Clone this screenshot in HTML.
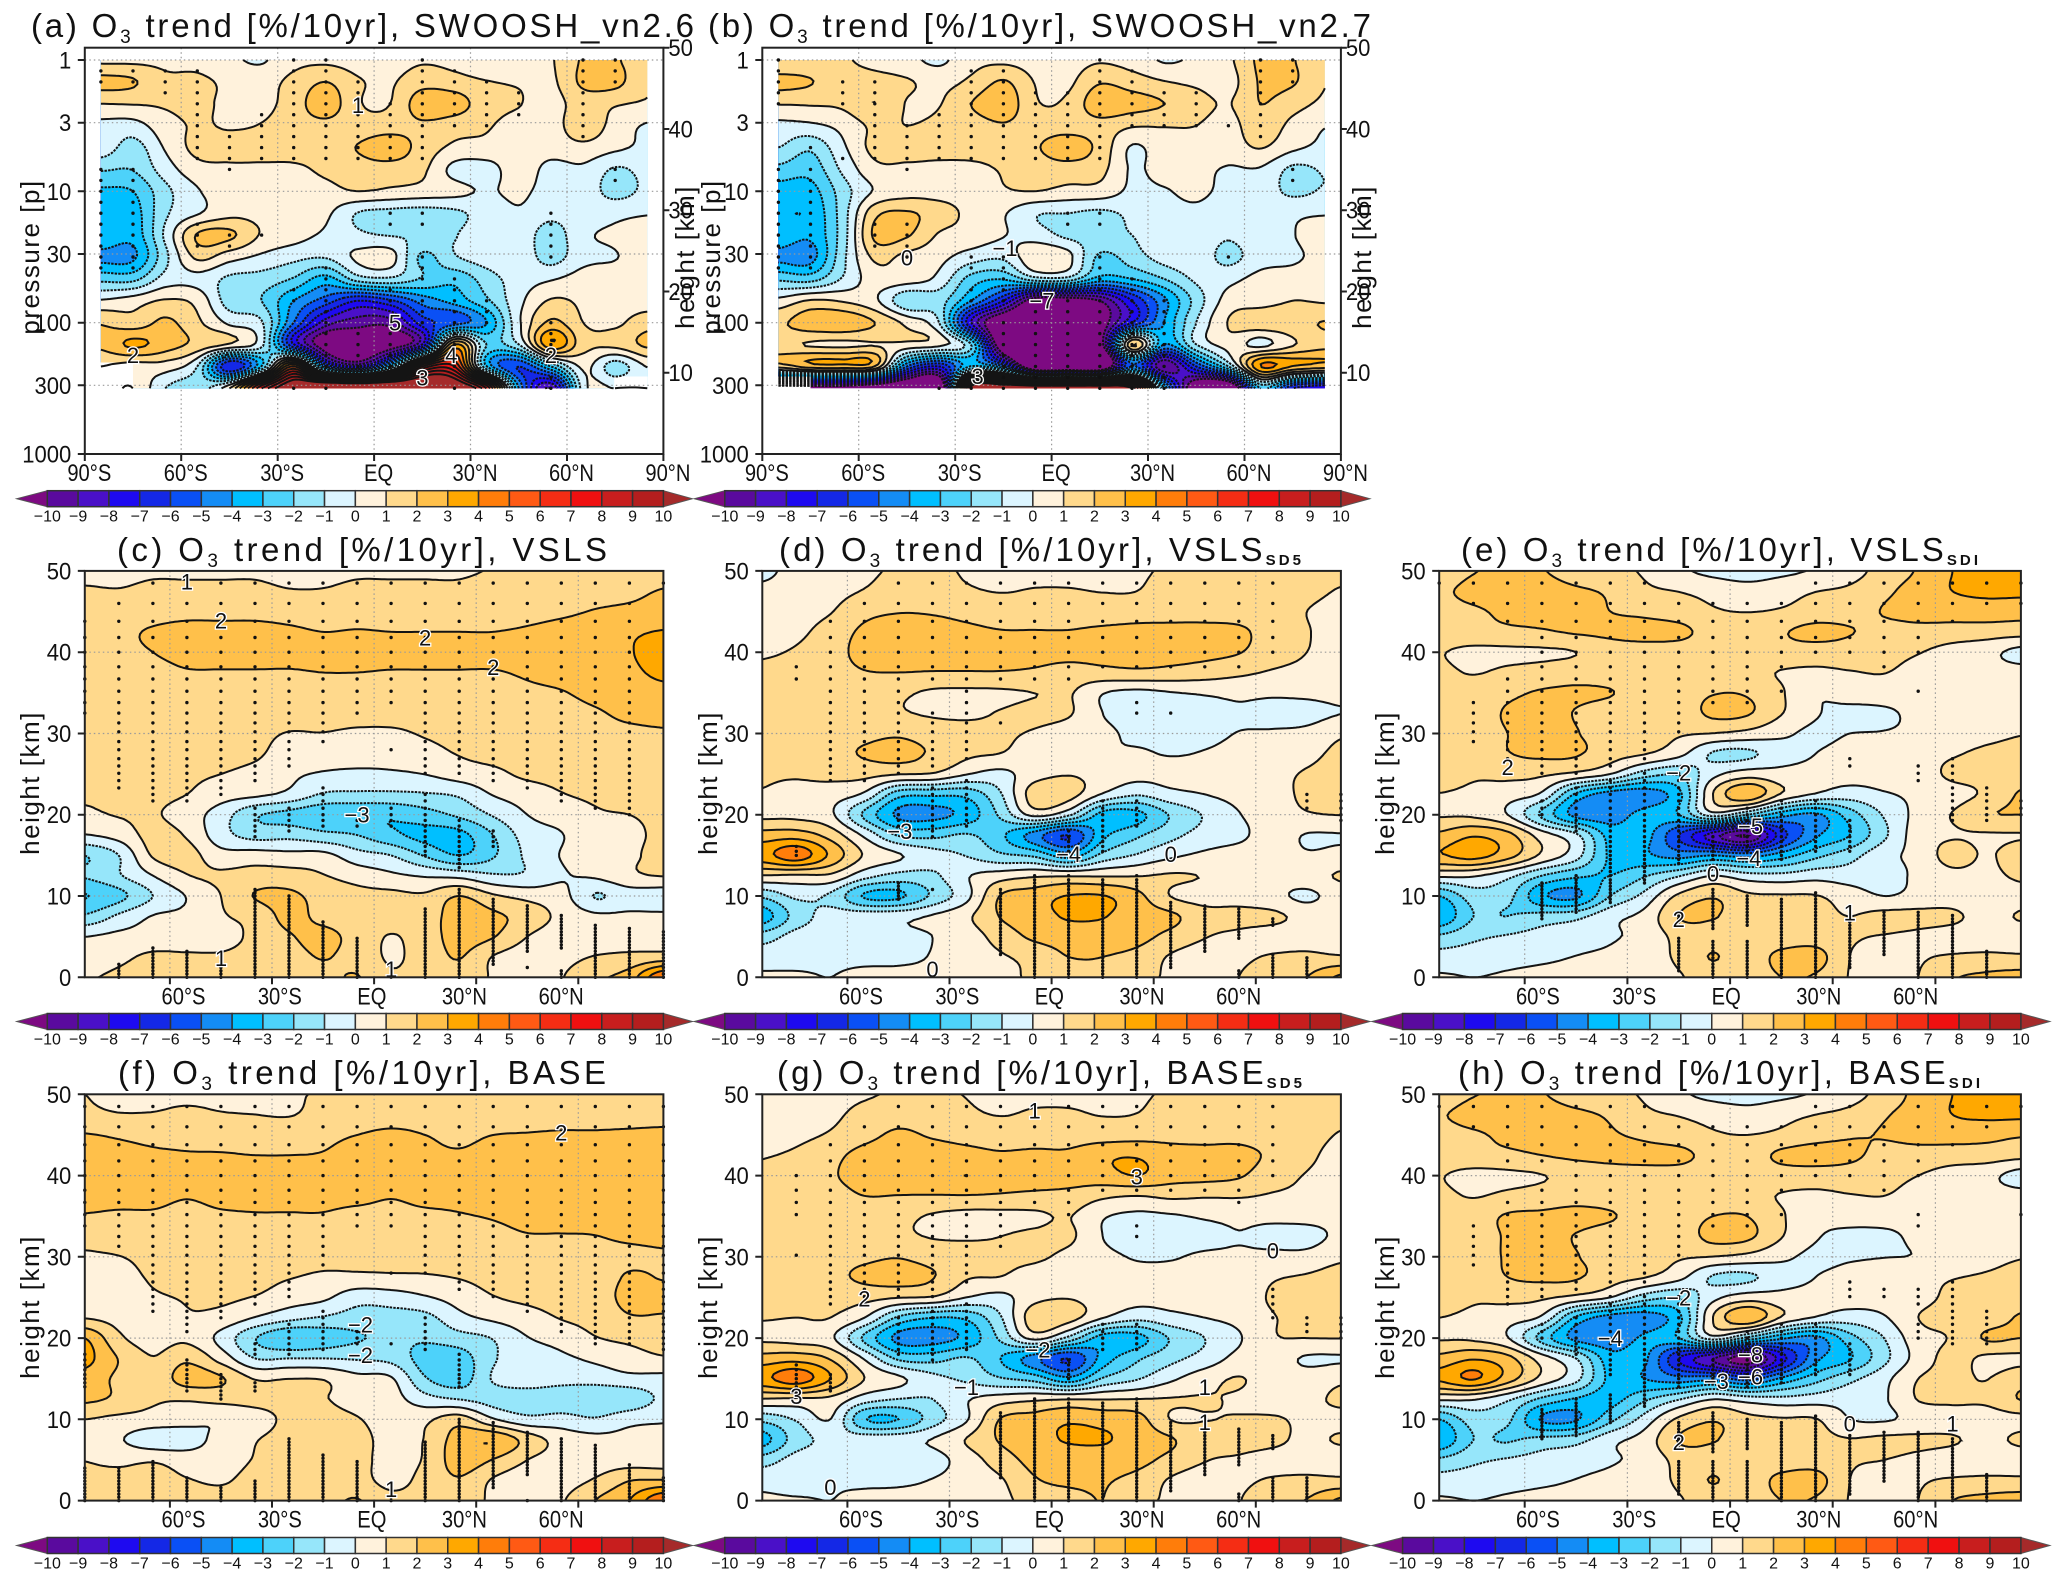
<!DOCTYPE html>
<html lang="en">
<head>
<meta charset="utf-8">
<title>O3 trend panels</title>
<style>
html,body{margin:0;padding:0;background:#fff}
svg{display:block}
text{font-family:"Liberation Sans",sans-serif;fill:#111}
.ttl{font-size:33px}
.sub{font-size:19px}
.sd{font-size:15px;font-weight:bold}
.axt{font-size:26px;letter-spacing:1.5px}
</style>
</head>
<body>
<svg id="chart" xmlns="http://www.w3.org/2000/svg" width="2067" height="1580" viewBox="0 0 2067 1580">
<rect width="2067" height="1580" fill="#fff"/>
<g id="plots"></g>

<text class="ttl" x="31" y="37" textLength="663">(a) O<tspan class="sub" dy="6">3</tspan><tspan dy="-6"> trend [%/10yr], SWOOSH_vn2.6</tspan></text>
<text class="ttl" x="708" y="37" textLength="663">(b) O<tspan class="sub" dy="6">3</tspan><tspan dy="-6"> trend [%/10yr], SWOOSH_vn2.7</tspan></text>
<text class="ttl" x="117" y="561" textLength="490">(c) O<tspan class="sub" dy="6">3</tspan><tspan dy="-6"> trend [%/10yr], VSLS</tspan></text>
<text class="ttl" x="779" y="561" textLength="522">(d) O<tspan class="sub" dy="6">3</tspan><tspan dy="-6"> trend [%/10yr], VSLS</tspan><tspan class="sd" dy="4">SD5</tspan></text>
<text class="ttl" x="1461" y="561" textLength="517">(e) O<tspan class="sub" dy="6">3</tspan><tspan dy="-6"> trend [%/10yr], VSLS</tspan><tspan class="sd" dy="4">SDI</tspan></text>
<text class="ttl" x="118" y="1084" textLength="488">(f) O<tspan class="sub" dy="6">3</tspan><tspan dy="-6"> trend [%/10yr], BASE</tspan></text>
<text class="ttl" x="777" y="1084" textLength="525">(g) O<tspan class="sub" dy="6">3</tspan><tspan dy="-6"> trend [%/10yr], BASE</tspan><tspan class="sd" dy="4">SD5</tspan></text>
<text class="ttl" x="1458" y="1084" textLength="522">(h) O<tspan class="sub" dy="6">3</tspan><tspan dy="-6"> trend [%/10yr], BASE</tspan><tspan class="sd" dy="4">SDI</tspan></text>

<text class="axt" transform="translate(39,257) rotate(-90)" text-anchor="middle">pressure [p]</text>
<text class="axt" transform="translate(694,257) rotate(-90)" text-anchor="middle">height [km]</text>
<text class="axt" transform="translate(720,257) rotate(-90)" text-anchor="middle">pressure [p]</text>
<text class="axt" transform="translate(1371,257) rotate(-90)" text-anchor="middle">height [km]</text>
<text class="axt" transform="translate(39,783) rotate(-90)" text-anchor="middle">height [km]</text>
<text class="axt" transform="translate(717,783) rotate(-90)" text-anchor="middle">height [km]</text>
<text class="axt" transform="translate(1394,783) rotate(-90)" text-anchor="middle">height [km]</text>
<text class="axt" transform="translate(39,1307) rotate(-90)" text-anchor="middle">height [km]</text>
<text class="axt" transform="translate(717,1307) rotate(-90)" text-anchor="middle">height [km]</text>
<text class="axt" transform="translate(1394,1307) rotate(-90)" text-anchor="middle">height [km]</text>
</svg>

<script>
// ---------- shared axes data ----------
const latitudes = [-85,-75,-65,-55,-45,-35,-25,-15,-5,5,15,25,35,45,55,65,75,85];
const heightLevels = [50,47.5,45,42.5,40,37.5,35,32.5,30,27.5,25,22.5,20,17.5,15,12.5,10,7.5,5,2.5,0];
const pressureLevels = [1,1.47,2.15,3.16,4.64,6.81,10,14.7,21.5,31.6,46.4,68.1,100,147,215,316];
const stippleHeights = [48.5,46,43.8,41.8,40,38.2,36.7,35.2,33.8,32.5,31.3,30.2,29,28,26.9,26,25.1,24.2,23.3,22.5,21.7,20.8,20,19.3,18.6,18,17.3,16.7,16.1,15.5,15,14.5,14,13.5,13,12.5,12,11.6,11.2,10.8,10.4,10,9.6,9.2,8.8,8.4,8,7.6,7.2,6.8,6.4,6,5.6,5.2,4.8,4.4,4,3.6,3.2,2.8,2.4,2,1.6,1.2,0.8,0.4,0];
const contourLevels = [-10,-9,-8,-7,-6,-5,-4,-3,-2,-1,0,1,2,3,4,5,6,7,8,9,10];
const colorbarLabels = ['−10','−9','−8','−7','−6','−5','−4','−3','−2','−1','0','1','2','3','4','5','6','7','8','9','10'];
const bandColors = ['#5a0a9e','#4a10c8','#1e0af0','#1428e6','#0a50f5','#148cf5','#00bfff','#4dd2fa','#96e6fa','#dcf5ff','#fff2dc','#ffd98c','#ffc04a','#ffa800','#ff7d0a','#ff5a14','#f52d14','#f01010','#c81e1e','#b41e1e'];
const belowColor = '#7d0a82';
const aboveColor = '#a52a2a';
const pressureTicks = [1,3,10,30,100,300,1000];
const pressureTickLabels = ['1','3','10','30','100','300','1000'];
const heightTicks = [0,10,20,30,40,50];
const latTicksFull = [-90,-60,-30,0,30,60,90];
const latLabelsFull = ['90°S','60°S','30°S','EQ','30°N','60°N','90°N'];
const latTicksShort = [-60,-30,0,30,60];
const latLabelsShort = ['60°S','30°S','EQ','30°N','60°N'];

// ---------- O3 trend grids (%/10yr), rows top to bottom, columns 85S to 85N ----------
const trendSwoosh26 = [
[.8,.8,.8,.7,.2,-.1,.7,.8,.6,.6,.9,.7,.1,.3,.9,2.1,2.1,1.3],
[2.3,2.1,1.2,1.2,.8,.6,1.3,2,1.1,.9,1.6,1.4,1.05,.9,.8,2.2,2.3,1.05],
[1,1.05,1.1,1.2,.8,.7,1.5,2.6,1.1,1,2.6,2.5,1.4,1.05,.6,1.5,1.1,.9],
[-.3,-.4,.6,1.1,.9,1.05,1.5,1.7,1.4,1.5,1.8,1.4,1.1,.6,.5,1.7,.6,-.1],
[-.4,-1.4,.1,1.3,1.4,1.4,1.5,1.5,2.05,2.6,1.6,.8,.7,.5,.4,.7,.2,-.2],
[-1.9,-1.95,-.5,.6,.8,.8,.8,1.2,1.5,1.5,1.2,-.3,-.4,.5,-.3,-.2,-1.1,-.7],
[-3.2,-3,-1.3,-.1,.6,.6,.6,.7,1,.8,.6,.3,-.1,.2,-.4,-.5,-1.3,-.8],
[-3.9,-3.5,-1.2,-.1,.7,.7,.7,.2,-1.05,-1.3,-1.4,-1.2,-.6,-.1,-.7,-.4,-.3,-.1],
[-3,-3.6,-.8,2.1,2.2,.9,.4,-.2,-.8,-1.05,-1.05,-1.05,-.3,-.3,-1.5,-.2,.2,.9],
[-4.3,-4.2,-1.3,1.2,.4,-.2,-.7,-.9,.2,.4,-2.2,-1.1,-.5,-.3,-1.4,-.3,-.05,.5],
[-2.3,-2.3,-.6,-.3,-1.2,-1.4,-2.1,-3.4,-1.5,-1.2,-2.1,-2.7,-1.5,-.5,-.1,.4,.5,.6],
[.1,.5,1.1,.7,-1.5,-2,-4,-5.5,-7,-6.2,-4.6,-3.6,-2.2,-.3,1.1,.8,.5,.5],
[1.9,1.4,2.2,1.2,-.2,-.9,-5,-8.5,-9.5,-9.5,-6.5,-5.5,-4,-.2,2.2,1,.8,1.6],
[2.2,3.2,2.5,1.7,.9,-.7,-7,-11,-11,-11,-8,3,-2,-1,3.8,1.4,1.3,2.2],
[1,.6,.5,-1,-7,-3,5,-5,-8,-3,6,7,-3,-6,-3,.2,-1.5,.05],
[.5,1,-1,-1.5,1,8,12,14,14,14,13,12,8,-4,-9,-.5,0,0]
];
const trendSwoosh27 = [
[1.1,1.2,1.1,.7,.3,-.2,.7,.8,.6,.6,.9,.6,-.1,.2,.8,2.2,2.05,1.2],
[2.3,2.05,1.4,1.4,1.1,.7,1.2,2.1,.95,.8,1.9,1.5,1.05,.8,.6,2.1,2.1,1.05],
[1.05,1.1,1.2,2,.95,.95,2,2.7,1.1,1.2,2.7,2.4,2,1.4,.95,2,1.4,.8],
[-.3,-.2,.3,1.2,1,1.2,1.5,1.9,1.5,1.5,1.6,1.1,1.05,1,.6,1.7,.7,.05],
[-1,-1.8,-.2,1.3,1.4,1.4,1.5,1.6,1.9,2.6,1.7,-.1,.6,.7,.5,1.05,.2,-.2],
[-2.3,-2.6,-.8,.7,.8,.7,.7,1.1,1.4,1.5,1.3,-.1,.4,.3,-.1,-.1,-1.2,-.9],
[-3.5,-3.4,-1.5,.1,.6,.6,.6,.9,1,.7,.6,-.2,-.1,.3,-.4,-.5,-1.2,-.9],
[-3.9,-3.8,-1.5,1.7,2.1,1.5,.7,.1,-.9,-1,-1.2,-.8,-.5,-.3,-.9,-.5,-.2,-.1],
[-3.2,-3.8,-1.5,2.2,2.1,.9,.6,.05,-.5,-1.2,-1.3,-1,-.4,-.3,-.9,-.2,-.05,.8],
[-4.3,-4.4,-1.3,1.2,.7,.3,-.5,-.8,.8,.3,-2.2,-1.5,-.6,-.4,-1.3,-.4,-.2,.4],
[-2.2,-2.4,-.9,.5,.5,-.3,-2.4,-2.9,-1.4,-1.4,-3.4,-3,-2,-.8,-.3,.3,.5,.7],
[.3,1.1,.9,.2,-1.8,-1.6,-4,-7,-11,-11,-10,-7,-4.3,-1.6,.4,.6,1,.9],
[1.8,2.6,2.8,2,.7,-1,-8,-12,-13,-13,-11,-7,-4,-1,1.05,1.7,1.7,2.05],
[1.3,.9,.8,.95,.7,.3,-2,-12,-13,-13,-11,2,-4,-1,.4,-.3,.9,1.7],
[1.4,2.5,2.6,2,-5,-7,-3,-5,-13,-13,-13,-5,-10,-6,-2,4,3,2.5],
[-11,-11,-11,-12,-13,-13,11,12,12,12,12,10,-3,-12,-13,-3,-7,-8]
];
const trendVSLS = [
[.8,.8,.9,.9,.9,.9,.8,.8,.9,.9,.9,.9,1.05,1.2,1.4,1.5,1.6,1.7],
[1.1,1.05,1.2,1.2,1.2,1.2,1.05,1.05,1.2,1.2,1.2,1.2,1.4,1.5,1.6,1.7,1.8,2.05],
[1.5,1.5,1.6,1.7,1.7,1.7,1.6,1.5,1.6,1.6,1.6,1.6,1.7,1.75,1.85,2.05,2.2,2.4],
[1.7,1.8,2.1,2.3,2.3,2.3,2.15,2,2.05,2,2,2,2,2.1,2.3,2.5,2.85,3.05],
[1.7,1.8,2,2.2,2.3,2.3,2.2,2.2,2.3,2.3,2.3,2.3,2.3,2.4,2.5,2.6,2.95,3.3],
[1.6,1.7,1.8,1.95,1.95,1.95,1.95,2,2,1.95,1.95,1.95,1.95,2.1,2.3,2.5,2.8,3.2],
[1.5,1.6,1.65,1.7,1.75,1.75,1.7,1.7,1.7,1.7,1.7,1.7,1.75,1.85,1.95,2.25,2.45,2.7],
[1.4,1.4,1.5,1.5,1.6,1.6,1.5,1.5,1.5,1.5,1.5,1.5,1.5,1.6,1.7,1.9,2.2,2.3],
[1.3,1.3,1.4,1.4,1.4,1.3,.95,.97,.8,.8,1.1,1.3,1.4,1.5,1.6,1.7,1.8,1.9],
[1.2,1.2,1.3,1.3,1.25,1.15,.55,.45,.4,.4,.65,1.05,1.3,1.4,1.5,1.5,1.6,1.65],
[1.1,1.1,1.2,1.15,1,.7,.2,-.1,-.2,-.15,.02,.45,.75,1.2,1.3,1.4,1.5,1.5],
[1.05,1.05,1.2,1,.45,.2,-.25,-1.1,-1.2,-1.2,-1.1,-.85,.05,.45,.95,1.15,1.3,1.4],
[.85,1.05,1.1,.5,-.5,-1.85,-2.3,-2.75,-2.85,-2.85,-2.4,-1.8,-.9,0,.45,.9,1,1.2],
[-.05,.4,1.3,.9,-.6,-1.35,-1.3,-1.7,-2,-2.75,-3.3,-3.3,-2,-.55,-.05,.7,.8,1.2],
[-2,-1,1.1,1.35,.4,.45,.3,.3,-.6,-1,-2.1,-3,-2.1,-.8,.05,.7,.85,1.3],
[-1.9,-1.1,0,.95,1.15,1.4,1.4,1.05,.6,.2,-.1,-.3,-.85,-.85,-.1,.15,.8,1.05],
[-3.05,-2.3,-1,.05,1,2.05,2.2,1.6,1.3,1.25,1.15,2,1.15,.7,.35,-1.05,-.5,-.6],
[-1.85,-.8,.05,.25,.9,1.3,2.3,1.7,1.4,1.4,1.4,2.6,2.2,1.6,.75,.2,.2,.2],
[0,.25,.35,.45,.7,1.2,1.9,2.3,1.6,.95,1.5,2.4,2.05,1,.5,.5,.6,.65],
[.3,.75,1.2,1.15,1.1,1.3,1.6,2.05,1.6,.9,1.4,2.05,.95,.5,.7,1.05,1.2,1.4],
[.9,1.2,1.5,1.5,1.3,1.4,1.6,1.7,2.05,1.1,1.4,1.6,.9,.5,.95,1.8,2.5,5]
];
const trendVSLSSD5 = [
[-.2,.3,.6,.85,1.1,1.1,.95,.8,.8,.8,.8,.9,1.1,1.2,1.25,1.25,1.2,1.15],
[.2,.4,.7,1.05,1.4,1.3,1.1,.97,1.05,1.05,.98,1,1.4,1.45,1.4,1.3,1.2,.95],
[.4,.6,.95,1.7,1.95,1.9,1.7,1.5,1.4,1.4,1.4,1.5,1.6,1.6,1.5,1.35,1,.7],
[.6,.8,1.4,2.2,2.5,2.4,2.2,2.05,2.05,2.05,2.2,2.3,2.3,2.3,2.2,1.5,1.05,.7],
[.9,1.1,1.6,2.3,2.4,2.4,2.3,2.3,2.3,2.3,2.3,2.3,2.3,2.25,2.05,1.4,1,.7],
[1.15,1.3,1.6,1.95,2,1.95,1.95,1.95,1.85,1.6,1.7,1.8,1.7,1.5,1.2,.9,.75,.6],
[1.2,1.3,1.45,1.45,1.2,.85,.8,.85,1,1.1,.05,-.25,-.05,.1,.2,.15,.2,.3],
[1.2,1.3,1.45,1.4,1.1,.9,.85,1.05,1.25,1.1,0,-.35,-.4,-.3,-.1,-.3,-.3,-.02],
[1.2,1.3,1.5,1.7,1.85,1.5,1.3,1.15,.9,.5,.2,-.2,-.25,-.15,.02,.1,.25,.85],
[1.2,1.3,1.6,2.1,2.35,1.85,1.2,.98,.5,.2,.02,.1,-.05,.05,.2,.4,.7,1.25],
[1.1,1.1,1.3,1.3,1.05,.9,.05,-.3,.6,.95,.6,.3,.35,.4,.5,.7,1.1,1.35],
[.95,.7,.45,-.2,-2.6,-2.8,-2.7,-1.1,1.5,1.4,-.1,-.9,-.3,0,.3,.6,1.2,1.35],
[.75,.7,.2,-2.2,-4.2,-4.3,-3.6,-1.8,.3,-.8,-3.4,-3.3,-1.9,-.9,-.05,.5,.9,1.02],
[2.4,2.5,1.6,-.2,-2.1,-2.3,-1.9,-2.8,-4.5,-6,-3.3,-2.2,-1.3,-.6,-.2,.4,-.05,-.05],
[3.6,4.6,2.8,.9,.1,-.6,-1.05,-1.8,-2.2,-3.5,-1.7,-.9,-.2,.2,.4,.5,.1,.3],
[.95,.85,.8,-.6,-1.3,-1.2,-.1,.5,.85,.9,.9,.95,1.1,.95,.6,.4,.6,1.1],
[-1.8,-.8,-1.2,-3.1,-3.2,-1.8,-.3,2.05,2.5,3.05,3.05,2.3,.98,.6,.6,.3,-.2,.5],
[-3.5,-1.6,-.6,-.4,-.3,.1,.8,2.05,2.6,3.1,3.05,2.5,2.2,1.4,1.3,1.2,.7,.8],
[-1.5,-.6,-.5,-.4,-.2,0,.5,1.4,2.2,2.4,2.4,2.3,1.7,1.05,.8,.6,.6,.6],
[-.4,-.3,-.2,-.2,-.15,.05,.5,.9,1.3,2,2,1.7,.9,.5,.8,1.1,1.2,1.1],
[.1,.1,0,.2,.2,.2,.3,.8,1.1,1.3,1.7,1.2,.9,.5,1,1.7,2,3.2]
];
const trendVSLSSDI = [
[1.3,1.95,2.1,2.05,1.5,1.2,.9,.2,-.25,-.4,-.2,.1,.6,1.4,2.1,3,3.4,3.4],
[1.8,2.3,2.4,2.4,2.15,1.85,1.2,.98,.7,.4,.65,.98,1.2,1.8,2.4,3,3.2,3.2],
[1.6,1.85,2.2,2.3,2.3,2,1.8,1.5,1.1,.98,1.1,1.4,1.6,2.05,2.3,2.4,2.5,2.4],
[1.5,1.7,1.8,1.9,2.1,2.2,2.3,2.25,1.6,1.5,1.9,2.3,2.05,1.7,1.7,1.6,1.5,1.4],
[1.05,.75,.8,.85,1,1.5,1.6,1.5,1.4,1.4,1.6,1.5,1.5,1.3,1.05,.6,.3,-.3],
[1.2,.95,1.2,1.4,1.6,1.5,1.5,1.5,1.4,1.3,.95,.8,.95,1.02,.7,.5,.4,.35],
[1.3,1.5,1.8,2.1,2.15,2.05,1.5,1.5,1.95,1.9,1.1,.1,.5,.6,.5,.5,.5,.5],
[1.3,1.5,2.1,2.3,1.95,1.5,1.4,1.4,2.2,2.1,1.05,.1,-.3,-.2,.3,.5,.4,.4],
[1.3,1.5,2,2.35,2.05,1.5,1.3,1.1,.98,.7,.2,-.2,0,.05,.2,.4,.7,.95],
[1.3,1.4,1.95,2.2,2.1,1.4,1.05,.3,-1.1,-1.2,-.4,0,.3,.4,.6,.9,1.2,1.3],
[1.9,1.2,1.3,1.15,.75,0,-1.5,-1.9,-.3,.5,.3,.2,.35,.4,.5,1.2,1.3,1.5],
[.95,.7,.4,-.2,-3.2,-4.5,-4.6,-3.3,1,2.8,.9,-.1,-.5,-.1,.2,.6,1.2,2.1],
[.9,.8,0,-2.2,-4.3,-4.5,-3.6,-3,-.5,-2,-3.6,-4.2,-2.5,-.9,.3,1.05,1.9,2],
[2.2,2.9,2.3,.5,-.8,-3.4,-3.6,-6,-8.5,-10,-6.5,-4.2,-3,-1.2,.5,.9,.9,.95],
[2.9,3.4,2.4,.8,-.6,-3.2,-3.8,-4.4,-4,-4.4,-3.5,-2.3,-1.4,-.3,.3,1.4,.9,1.5],
[.2,.1,-.7,-2,-2.8,-3,-2.1,-1.1,0,-.6,-.7,-.4,-.5,-.4,.2,.7,.7,1.2],
[-3,-1.5,-1.7,-3.8,-4.2,-2,-.7,1.2,1.9,1.2,1.1,1.05,.5,0,.3,.5,.2,.6],
[-3.9,-2,-2,-1.6,-1.3,-.3,.3,2,2.05,1.6,1.5,1.3,1,1.3,1.3,1.2,.6,1.1],
[-1.8,-1.2,-.9,-.6,-.4,-.1,.3,1.3,1.6,1.4,1.4,1.5,1.1,.95,.8,.6,.5,.5],
[-.6,-.5,-.3,-.15,.02,.15,.4,1.2,2.05,1.4,2.3,2.4,1,.6,.9,1.1,1.2,1.15],
[.1,0,.1,.2,.2,.3,.4,.9,1.5,1.4,2,1.9,.95,.5,1,1.9,2.2,2.4]
];
const trendBASE = [
[1,.8,.9,.9,.9,.9,.95,1.05,1.2,1.2,1.2,1.2,1.3,1.3,1.3,1.3,1.3,1.3],
[1.2,1.05,1.05,1.15,1.05,1,.95,1.3,1.4,1.5,1.5,1.5,1.5,1.55,1.6,1.6,1.6,1.65],
[2.05,1.9,1.8,1.8,1.7,1.7,1.7,1.8,2,2.2,2,1.8,2,2.05,2.1,2.1,2.15,2.2],
[2.4,2.2,2.1,2.05,2.05,2,2,2.05,2.3,2.4,2.2,2.1,2.3,2.3,2.3,2.3,2.3,2.4],
[2.5,2.4,2.4,2.4,2.4,2.4,2.4,2.4,2.5,2.5,2.4,2.4,2.4,2.4,2.5,2.5,2.5,2.6],
[2.2,2.2,2.2,2.05,2.2,2.2,2.2,2.2,2.2,2.05,2.2,2.2,2.3,2.4,2.4,2.4,2.5,2.5],
[1.95,1.9,1.9,1.8,1.9,1.95,1.95,1.95,1.8,1.8,1.85,1.95,2.05,2.2,2.3,2.3,2.5,2.5],
[1.4,1.6,1.65,1.7,1.7,1.7,1.7,1.7,1.6,1.6,1.6,1.7,1.8,1.95,1.95,1.98,2.15,2.2],
[.85,.97,1.3,1.4,1.45,1.45,1.4,1.3,1.3,1.3,1.3,1.4,1.5,1.6,1.7,1.7,1.8,1.9],
[.7,.7,1.1,1.25,1.3,1.25,1.05,.85,.8,.85,.9,1.05,1.3,1.4,1.5,1.5,2.1,1.95],
[.6,.6,.9,1.05,1.15,.95,.5,.2,-.6,-.5,-.1,.4,.95,1.2,1.35,1.5,2.3,2.3],
[.95,.7,.6,.95,.7,-.05,-.7,-1.1,-1.4,-1.4,-1.3,-.3,.2,.6,1.05,1.3,1.9,1.9],
[3,1.2,.6,.8,-.3,-1.95,-2.9,-2.6,-2.1,-1.8,-1.85,-1.4,-.95,-.05,.4,.95,1.2,1.4],
[3.3,1.95,1.05,1.8,.6,-1,-1,-1,-1.1,-1.3,-2.4,-2.5,-1.1,-.6,-.2,.2,.6,.9],
[2.6,1.8,1.4,2.4,2.1,.95,1,.95,.3,.1,-1.9,-2.5,-.9,-.4,-.6,-.6,-.3,-.3],
[2.2,1.8,1.15,1.1,1.3,1.3,1.2,1.05,.7,.4,-.6,-1.05,-1.4,-1.6,-1.7,-1.8,-1.7,-.8],
[1,.75,.6,.4,.05,.55,1.2,1.2,1.05,.6,.8,1.5,.1,-.7,-.6,-.9,-.3,-.1],
[.6,.1,-.6,-.5,.4,.95,1.3,1.4,1.3,.7,1.05,2.5,2.9,1.6,.6,.3,.3,.3],
[.98,.8,.9,.6,.6,1.05,1.3,1.6,1.3,.7,1.1,2.5,1.95,1,.6,.5,.5,.5],
[1.2,1.3,1.3,1.05,.9,1.3,1.5,1.6,1.4,.7,1.3,1.9,.9,.4,.6,1.1,1.95,2.05],
[1.4,1.5,1.5,1.4,1.3,1.4,1.6,1.7,2.05,1.3,1.4,1.6,.8,.4,.9,2,3,5]
];
const trendBASESD5 = [
[.3,.5,.7,.9,1.1,1.1,.98,.85,.85,.85,.85,.9,1.1,1.2,1.25,1.25,1.25,1.2],
[.5,.6,.8,1.3,1.6,1.4,1.15,.97,1.1,1.1,.97,1.02,1.4,1.5,1.5,1.4,1.3,1.15],
[.7,.8,1.1,1.7,2.15,1.9,1.7,1.55,1.5,1.5,1.5,1.6,1.7,1.7,1.7,1.5,1.3,.95],
[.95,1.15,1.7,2.3,2.4,2.4,2.3,2.1,2.2,2.2,2.8,2.9,2.4,2.3,2.3,1.8,1.2,.7],
[1.2,1.5,1.9,2.3,2.4,2.6,3,2.4,2.4,2.4,2.6,3,2.4,2.3,2.1,1.4,.95,.7],
[1.5,1.6,1.7,2,1.98,1.95,1.95,1.9,1.8,1.7,1.2,1,1.2,1.1,1.1,.9,.8,.6],
[1.4,1.5,1.5,1.5,1.3,.9,.7,.7,.8,1.05,.1,-.2,-.1,.1,.2,.2,.3,.3],
[1.3,1.4,1.5,1.5,1.2,.95,.9,1,1.2,1.2,0,-.4,-.3,-.2,-.02,-.2,-.3,.2],
[1.3,1.4,1.6,1.8,1.95,1.6,1.4,1.2,1.2,.7,.2,-.05,-.05,.1,.1,.2,.3,.8],
[1.3,1.4,1.7,2.2,2.4,2.05,1.1,.98,.5,.2,.02,.15,.2,.3,.4,.9,1.1,1.4],
[1.2,1.2,1.3,1.3,1.05,.9,0,-.3,.7,.95,.5,.3,.3,.4,.5,1.1,1.2,1.35],
[1.05,1,1,0,-2.2,-3,-2.8,-1.1,1.6,1.4,.05,-.7,-.3,0,.3,.95,1.2,1.35],
[.8,.6,.2,-2.2,-4.3,-4.4,-3.7,-1.8,.3,-1.3,-3.5,-3.4,-1.9,-1,-.1,.9,1,1.02],
[2.4,2.6,1.9,-.1,-2.2,-2.4,-1.9,-3,-4.6,-6,-3.6,-2.2,-1.3,-.6,.3,.4,-.1,-.1],
[3.7,4.6,3,1,.2,-.7,-1.2,-1.9,-2.4,-3.7,-1.9,-1.1,-.2,.6,1.05,.5,.4,.8],
[.95,.85,.75,-.5,-1,-1,-.1,.5,.8,.95,.95,1,1.05,1.05,.9,.5,.7,1.2],
[-1.7,-.9,0,-2.9,-3,-1.5,-.1,2.05,2.4,2.8,2.6,2.4,.98,.98,1.05,1.1,.8,.7],
[-3.4,-1.5,-.7,-.4,-.3,.05,1.05,2.1,2.6,3.1,3.1,2.6,2.1,1.3,1.3,1.2,.8,1.1],
[-1.5,-.6,-.5,-.4,-.2,-.35,.5,1.5,2.3,2.3,2.4,2.3,1.7,1.05,.9,.7,.6,.6],
[-.3,-.3,-.1,-.1,-.1,.03,.4,.9,1.9,2.2,2.1,1.7,.9,.5,.8,1.1,1.2,1.2],
[.1,.05,0,.1,.2,.2,.3,.8,1.3,1.6,2,1.2,.9,.5,.95,1.8,2.05,3.2]
];
const trendBASESDI = [
[1.3,1.95,2.05,2.05,1.5,1.2,.9,.2,-.3,-.4,-.2,.1,.6,1.4,2.3,3,3.4,3.4],
[1.9,2.4,2.4,2.4,2.2,1.85,1.2,.95,.7,.4,.7,1,1.3,1.9,2.4,3,3.2,3.2],
[1.6,1.85,2.2,2.3,2.3,2.1,1.8,1.4,1.1,1,1.2,1.6,1.9,2.05,2.3,2.4,2.3,2.1],
[1.5,1.7,1.8,2,2.2,2.3,2.3,2.3,1.6,1.5,2.2,2.4,2.2,1.7,1.6,1.5,1.5,1.3],
[1.05,.7,.8,.97,1.3,1.5,1.6,1.5,1.4,1.4,1.5,1.5,1.5,1.3,1,.6,.3,-.4],
[1.2,.95,1.2,1.4,1.6,1.5,1.5,1.5,1.4,1.3,.95,.8,.95,1,.7,.5,.4,.35],
[1.3,1.5,2.1,2.2,2.3,2.1,1.5,1.5,2,2,1.1,.4,.5,.6,.5,.5,.5,.5],
[1.3,1.5,2.1,2.3,1.95,1.5,1.4,1.4,2.3,2.2,1.05,.1,-.3,-.3,.3,.5,.5,.5],
[1.3,1.5,2.1,2.35,2.05,1.5,1.3,1.1,.98,.7,.2,-.2,-.1,-.02,.05,.4,.7,.95],
[1.3,1.4,2,2.2,2.1,1.4,1.05,.3,-1.1,-1.2,-.4,0,.3,.45,.7,.95,1.1,1.3],
[1.9,1.2,1.3,1.15,.7,0,-1.5,-1.9,-.3,.5,.3,.2,.4,.4,.7,1.2,1.3,1.5],
[1,.7,.4,-.2,-3.2,-4.5,-4.6,-3.3,1,2.9,.9,-.1,-.5,-.1,1,1.3,1.5,2.1],
[.9,.8,.05,-2.4,-4.3,-4.6,-3.8,-3,-.5,-2.3,-3.8,-4.3,-2.4,-1,.6,1.1,2.1,2],
[2.3,2.9,2.3,.5,-1,-3.6,-3.8,-7,-9,-10.5,-7.5,-4.3,-3.1,-1.3,.4,1.3,.8,.8],
[3.2,4.1,2.5,.7,-.7,-3.3,-4,-4.6,-4.4,-5.4,-3.8,-2.4,-1.3,-.3,1,1.2,.98,1.6],
[.2,.1,-.8,-2.2,-3.1,-3.4,-2.2,-1.1,-.05,-.5,-.7,-.5,-.3,-.1,1.05,1.2,1.2,2.05],
[-3,-1.5,-1.8,-4.1,-4.1,-2.3,-.6,1.2,1.9,1.3,1.1,1.05,.02,-.1,.3,.5,.5,.7],
[-3.9,-2,-2.1,-1.7,-1.4,-.3,.4,2.05,2.05,1.6,1.5,1.3,1.05,1.2,1.2,1.1,.7,1.2],
[-1.8,-1.2,-.9,-.6,-.4,-.1,.3,1.3,1.6,1.4,1.4,1.5,1.1,1,.8,.6,.5,.5],
[-.6,-.5,-.3,-.15,.02,.2,.4,1.2,2.05,1.4,2.3,2.4,1,.6,.9,1.1,1.2,1.2],
[.1,0,.1,.2,.2,.3,.4,.9,1.5,1.4,2,1.9,.95,.5,1,2,2.3,2.5]
];

// ---------- significance stippling: per-latitude intervals (km, or SWOOSH level index) ----------
const stippleSwoosh26 = [[[1,2],[10,19]],[[1,2],[10,19]],[[1,3]],[[1,9],[15,17]],[[7,10],[16,17]],[[5,9],[16,16]],[[0,9],[21,22],[30,30]],[[0,9],[19,24],[25,28],[30,30]],[[2,9],[25,28]],[[4,9],[14,15],[21,22],[25,28]],[[0,9],[14,15],[18,20],[22,24]],[[1,6],[20,24],[25,28],[30,30]],[[2,6],[22,24]],[[3,5]],[[14,18],[24,26],[29,30]],[[0,7]],[[0,2],[10,11]],[]];
const stippleSwoosh27 = [[[0,4],[10,19]],[[8,8],[10,19]],[[2,4],[9,9]],[[2,9],[15,17]],[[6,10],[15,18]],[[5,9],[30,30]],[[1,9],[18,19],[21,22],[30,30]],[[1,9],[18,22],[24,30]],[[3,9],[22,30]],[[3,9],[14,15],[22,30]],[[0,9],[14,15],[18,30]],[[1,6],[20,30]],[[3,6],[22,30]],[[3,6]],[[6,6],[18,18]],[[0,7]],[[0,2],[10,11]],[]];
const stippleVSLS = [[[44,32]],[[46,23.3],[1.5,0]],[[48.5,21.7],[3.5,0]],[[48.5,21.7],[3.2,0]],[[48.5,22.5],[2.8,0]],[[48.5,24.2],[21,17.3],[10.8,0]],[[48.5,26],[21.5,18],[10,0]],[[48.5,29],[23.3,18.6],[7,0]],[[48.5,32.5],[19.3,18.6],[5,0]],[[48.5,33.8],[28,28],[21,18.6],[1.6,0]],[[48.5,25.1],[23,14.8],[8.4,0]],[[48.5,25.1],[19.3,13.5],[10.8,0]],[[48.5,24.2],[18,16.1],[9.6,1.6]],[[48.5,23.3],[8.8,3.2],[1.2,1.2]],[[48.5,21.7],[7.6,3.6],[0.8,0]],[[48.5,20.8],[6.4,0]],[[48.5,20],[6,0]],[[48.5,48.5],[5.6,0]]];
const stippleVSLSSD5 = [[],[[38.2,36.7],[16.1,15]],[[43.8,24.2]],[[46,24.2]],[[48.5,25.1],[21,18.6],[11.6,9.6]],[[48.5,36.7],[32.5,26],[23.3,17.3],[10.8,10.8]],[[48.5,26.9],[24.2,18.6]],[[48.5,36.7],[31.3,31.3],[10.8,2.8]],[[48.5,36.7],[12.5,0]],[[48.5,36.7],[18,15.5],[12.5,0]],[[48.5,38.2],[21.7,15.5],[12,0]],[[48.5,38.2],[33.8,32.5],[21.7,18.6],[12.5,0]],[[48.5,38.2],[32.5,32.5],[9.2,1.2]],[[48.5,38.2],[8.8,3.2],[1,1]],[[48.5,38.2],[8.4,4.8],[0.8,0]],[[48.5,40],[7.2,6.4],[2.8,0]],[[22.5,20.8],[2.4,0]],[[22.5,19.3]]];
const stippleVSLSSDI = [[[48.5,48.5]],[[48.5,46],[33.8,29]],[[48.5,43.8],[36.7,26.9]],[[48.5,25.1],[21.7,20],[11.6,7.2]],[[48.5,25.1],[23.3,18],[12.5,8]],[[48.5,26],[24.2,9.2]],[[48.5,26.9],[25.1,11.6]],[[46,30.2],[25.1,14],[8,6.8],[5,0.8]],[[46,33.8],[17.3,14.5],[10.8,6],[4.4,0]],[[46,33.8],[20.8,15.5],[10,6.4],[4.4,0]],[[46,38.2],[35.2,35.2],[21.7,14.5],[9.6,0]],[[48.5,40],[21.7,15.5],[10.4,0]],[[48.5,40],[26.9,26],[19.3,15.5],[8,1.2]],[[48.5,38.2],[8,2.8]],[[48.5,40],[35.2,35.2],[26,24.2],[8,0]],[[48.5,43.8],[26.9,19.3],[7.6,0]],[[48.5,46],[23.3,19.3],[3.2,0]],[[48.5,46],[22,20]]];
const stippleBASE = [[[48.5,33.8],[18,14],[4,0]],[[48.5,31.3],[4,0]],[[48.5,23.3],[4.8,0]],[[48.5,20.8],[17.3,13.5],[2.8,0]],[[48.5,22.5],[15.5,12.5],[1.6,0]],[[48.5,24.2],[19.3,18],[14.5,13.5],[2.4,0]],[[48.5,25.1],[21.7,18],[7.6,0]],[[48.5,29],[23.3,18.6],[5.6,0]],[[48.5,33.8],[20.8,19.3],[4.8,0]],[[48.5,33.8],[28,28],[19.3,19.3],[2,0]],[[48.5,28],[22.5,18.6],[7.2,0]],[[48.5,26],[18,14],[10,0]],[[48.5,25.1],[9.6,1.6]],[[48.5,23.3],[8.4,3.2],[0,0]],[[48.5,20.8],[7.6,0]],[[48.5,19.3],[6.8,0]],[[48.5,19.3],[4.4,0]],[[48.5,18.6],[2.8,0]]];
const stippleBASESD5 = [[],[[40,35.2],[30.2,30.2],[16.7,13.5]],[[43.8,24.2],[15.5,13.5]],[[46,25.1]],[[48.5,25.1],[22.5,18]],[[48.5,25.1],[23.3,17.3]],[[48.5,26.9],[24.2,18.6]],[[48.5,31.3],[10.8,2.8]],[[48.5,36.7],[12.5,0]],[[48.5,35.2],[17.3,15],[12.5,0]],[[48.5,38.2],[21.7,18.6],[12,0]],[[48.5,38.2],[33.8,32.5],[21.7,18.6],[12.5,0]],[[48.5,38.2],[9.6,1.2]],[[48.5,38.2],[9.6,3.2]],[[48.5,36.7],[8.8,4.4],[0.8,0]],[[48.5,40],[26,22.5],[8,6.4],[2.8,0]],[[22.5,20.8],[2.8,0]],[[22.5,20]]];
const stippleBASESDI = [[[48.5,48.5]],[[48.5,46],[33.8,29]],[[48.5,41.8],[36.7,24.2]],[[48.5,41.8],[38.2,25.1],[21.7,20],[11.2,7.6]],[[48.5,25.8],[22.5,18],[12.5,8]],[[48.5,26.9],[25.1,15.5],[13,9.6]],[[48.5,26.9],[25.1,11.6]],[[46,30.2],[25.1,14],[9.6,6.4],[5,0.8]],[[46,33.8],[17.3,14.5],[10.8,6],[4.8,0]],[[46,33.8],[20.8,14],[10,6.4],[4.8,0]],[[46,38.2],[35.2,35.2],[21.7,14.5],[9.6,0]],[[48.5,40],[21.7,15.5],[10.4,0]],[[48.5,40],[26.9,25.1],[19.3,15.5],[8,0.8]],[[46,38.2],[26,25.1],[8.4,2.4]],[[48.5,40],[35.2,33.8],[26,24.2],[21.7,20],[8.4,0]],[[48.5,43.8],[26.9,19.3],[7.6,0]],[[48.5,46],[23.3,19.3],[3.2,0]],[[48.5,48.5],[35.2,35.2]]];

// ---------- contour labels: latitude, level (km or hPa), text ----------
const labelsSwoosh26 = [[-75,177,'2'],[6.5,100,'5'],[24,177,'4'],[15,262,'3'],[55,177,'2'],[-5,2.2,'1']];
const labelsSwoosh27 = [[-45,32,'0'],[-14.5,27,'−1'],[-3,68,'−7'],[-23,255,'3']];
const labelsVSLS = [[-55,48.7,'1'],[-45,43.9,'2'],[15,41.8,'2'],[35,38.2,'2'],[-5,20,'−3'],[-45,2.4,'1'],[5,1,'1']];
const labelsVSLSSD5 = [[5,15.2,'−4'],[-44.6,18,'−3'],[35,15.2,'0'],[-35,1,'0']];
const labelsVSLSSDI = [[-65,25.9,'2'],[-15,25.2,'−2'],[6,18.6,'−5'],[5.5,14.7,'−4'],[-5,12.8,'0'],[-15,7.2,'2'],[35,8,'1']];
const labelsBASE = [[55,45.3,'2'],[-4,21.7,'−2'],[-4,17.9,'−2'],[5,1.4,'1']];
const labelsBASESD5 = [[-5,48,'1'],[25,39.9,'3'],[-55,24.9,'2'],[65,30.8,'0'],[-4,18.6,'−2'],[-25,14,'−1'],[45,14,'1'],[-75,12.9,'3'],[45,9.7,'1'],[-65,1.7,'0']];
const labelsBASESDI = [[-15,25,'−2'],[-35,20,'−4'],[6,18,'−8'],[6,15.3,'−6'],[-4,14.7,'−3'],[35,9.5,'0'],[65,9.5,'1'],[-15,7.2,'2']];

// ---------- missing-data boxes in the SWOOSH panels: lat min, lat max, pressure from ----------
const missingSwoosh26 = [[-85,-75,201],[75,85,257]];
const missingSwoosh27 = [[-85,-75,257]];

// ---------- rendering ----------
const NS = 'http://www.w3.org/2000/svg';
const plotsRoot = document.getElementById('plots');

function make(tag, attrs, parent) {
  const el = document.createElementNS(NS, tag);
  for (const k in attrs) el.setAttribute(k, attrs[k]);
  (parent || plotsRoot).appendChild(el);
  return el;
}
function cr(p0, p1, p2, p3, t) {
  return .5 * (2 * p1 + (-p0 + p2) * t + (2 * p0 - 5 * p1 + 4 * p2 - p3) * t * t + (-p0 + 3 * p1 - 3 * p2 + p3) * t * t * t);
}
function sampleField(grid, u, v) {
  const nr = grid.length, nc = grid[0].length;
  const r = Math.min(Math.floor(v), nr - 2), c = Math.min(Math.floor(u), nc - 2);
  const tv = v - r, tu = u - c;
  const vals = [];
  for (let k = -1; k <= 2; k++) {
    const row = grid[Math.max(0, Math.min(nr - 1, r + k))];
    vals.push(cr(row[Math.max(0, c - 1)], row[c], row[c + 1], row[Math.min(nc - 1, c + 2)], tu));
  }
  return cr(vals[0], vals[1], vals[2], vals[3], tv);
}
function bandPath(S, X, Y, L) {
  let d = '';
  const ny = Y.length - 1, nx = X.length - 1;
  const f = n => n.toFixed(1);
  for (let j = 0; j < ny; j++) {
    let run = -1;
    for (let i = 0; i <= nx; i++) {
      let full = false, none = false, v = null;
      if (i < nx) {
        v = [S[j][i], S[j][i + 1], S[j + 1][i + 1], S[j + 1][i]];
        full = v[0] >= L && v[1] >= L && v[2] >= L && v[3] >= L;
        none = v[0] < L && v[1] < L && v[2] < L && v[3] < L;
      }
      if (full) { if (run < 0) run = i; continue; }
      if (run >= 0) {
        d += 'M' + f(X[run]) + ' ' + f(Y[j]) + 'H' + f(X[i]) + 'V' + f(Y[j + 1]) + 'H' + f(X[run]) + 'Z';
        run = -1;
      }
      if (i === nx || none) continue;
      const px = [X[i], X[i + 1], X[i + 1], X[i]], py = [Y[j], Y[j], Y[j + 1], Y[j + 1]];
      const pts = [];
      for (let k = 0; k < 4; k++) {
        const n = (k + 1) % 4, a = v[k], b = v[n];
        if (a >= L) pts.push(f(px[k]) + ' ' + f(py[k]));
        if ((a >= L) !== (b >= L)) {
          const t = (L - a) / (b - a);
          pts.push(f(px[k] + (px[n] - px[k]) * t) + ' ' + f(py[k] + (py[n] - py[k]) * t));
        }
      }
      d += 'M' + pts.join('L') + 'Z';
    }
  }
  return d;
}
function contourPath(S, X, Y, L) {
  const ny = Y.length - 1, nx = X.length - 1;
  const W = nx + 2;
  const links = new Map(), pos = new Map();
  const hId = (j, i) => 2 * (j * W + i), vId = (j, i) => 2 * (j * W + i) + 1;
  const link = (a, b) => {
    if (!links.has(a)) links.set(a, []);
    if (!links.has(b)) links.set(b, []);
    links.get(a).push(b);
    links.get(b).push(a);
  };
  for (let j = 0; j < ny; j++) for (let i = 0; i < nx; i++) {
    const a = S[j][i], b = S[j][i + 1], c = S[j + 1][i + 1], e = S[j + 1][i];
    const cross = [];
    if ((a >= L) !== (b >= L)) { const id = hId(j, i), t = (L - a) / (b - a); pos.set(id, [X[i] + (X[i + 1] - X[i]) * t, Y[j]]); cross.push(id); }
    if ((b >= L) !== (c >= L)) { const id = vId(j, i + 1), t = (L - b) / (c - b); pos.set(id, [X[i + 1], Y[j] + (Y[j + 1] - Y[j]) * t]); cross.push(id); }
    if ((c >= L) !== (e >= L)) { const id = hId(j + 1, i), t = (L - e) / (c - e); pos.set(id, [X[i] + (X[i + 1] - X[i]) * t, Y[j + 1]]); cross.push(id); }
    if ((e >= L) !== (a >= L)) { const id = vId(j, i), t = (L - a) / (e - a); pos.set(id, [X[i], Y[j] + (Y[j + 1] - Y[j]) * t]); cross.push(id); }
    if (cross.length === 2) link(cross[0], cross[1]);
    else if (cross.length === 4) {
      const m = (a + b + c + e) / 4;
      if ((m >= L) === (a >= L)) { link(cross[0], cross[1]); link(cross[2], cross[3]); }
      else { link(cross[0], cross[3]); link(cross[1], cross[2]); }
    }
  }
  const seen = new Set();
  let d = '';
  const walk = start => {
    let cur = start, prev = null;
    const p0 = pos.get(cur);
    d += 'M' + p0[0].toFixed(1) + ' ' + p0[1].toFixed(1);
    seen.add(cur);
    for (;;) {
      const nb = links.get(cur);
      let next = null;
      for (const n of nb) { if (!seen.has(n)) { next = n; break; } }
      if (next === null) {
        if (prev !== null && nb.indexOf(start) >= 0 && start !== prev) d += 'Z';
        break;
      }
      const p = pos.get(next);
      d += 'L' + p[0].toFixed(1) + ' ' + p[1].toFixed(1);
      seen.add(next);
      prev = cur;
      cur = next;
    }
  };
  links.forEach((nb, id) => { if (nb.length === 1 && !seen.has(id)) walk(id); });
  links.forEach((nb, id) => { if (!seen.has(id)) walk(id); });
  return d;
}

function drawPanel(cfg) {
  const g = make('g', {});
  
  

  const isPressure = cfg.pressure;
  const latMin = isPressure ? -90 : -85, latMax = isPressure ? 90 : 85;
  const xOf = lat => cfg.left + (lat - latMin) / (latMax - latMin) * (cfg.right - cfg.left);
  const pressureDecade = (cfg.bottom - (cfg.top + 12.3)) / 3;
  const yOfP = p => cfg.top + 12.3 + Math.log10(p) * pressureDecade;
  const yOfH = h => cfg.bottom - h / 50 * (cfg.bottom - cfg.top);
  const yOf = isPressure ? yOfP : yOfH;
  const levels = isPressure ? pressureLevels : heightLevels;

  const x0 = xOf(latitudes[0]), x1 = xOf(latitudes[latitudes.length - 1]);
  const y0 = yOf(levels[0]), y1 = yOf(levels[levels.length - 1]);
  const step = 3;
  const nx = Math.round((x1 - x0) / step), ny = Math.round((y1 - y0) / step);
  const X = [], Y = [], S = [];
  for (let i = 0; i <= nx; i++) X.push(x0 + (x1 - x0) * i / nx);
  for (let j = 0; j <= ny; j++) Y.push(y0 + (y1 - y0) * j / ny);
  for (let j = 0; j <= ny; j++) {
    const row = [];
    const v = j / ny * (levels.length - 1);
    for (let i = 0; i <= nx; i++) row.push(sampleField(cfg.values, i / nx * (latitudes.length - 1), v));
    S.push(row);
  }

  const base = make('rect', { x: x0, y: y0, width: x1 - x0, height: y1 - y0, fill: belowColor }, g);
  
  
  contourLevels.forEach((L, idx) => {
    const band = make('path', { d: bandPath(S, X, Y, L), fill: idx < bandColors.length ? bandColors[idx] : aboveColor }, g);
    
    
  });
  (cfg.missing || []).forEach(m => {
    const mask = make('rect', { x: xOf(m[0]) - 1, y: yOf(m[2]), width: xOf(m[1]) - xOf(m[0]) + 1, height: y1 - yOf(m[2]) + 2, fill: '#fff' }, g);
    
    
  });

  // grid
  let gd = '';
  const latTicks = isPressure ? latTicksFull : latTicksShort;
  latTicks.forEach(t => { gd += 'M' + xOf(t).toFixed(1) + ' ' + cfg.top + 'V' + cfg.bottom; });
  (isPressure ? pressureTicks : heightTicks).forEach(t => { gd += 'M' + cfg.left + ' ' + yOf(t).toFixed(1) + 'H' + cfg.right; });
  const grid = make('path', { d: gd, fill: 'none', stroke: '#9a9a9a', 'stroke-width': 1.2, 'stroke-dasharray': '1.5 3' }, g);
  
  

  // contours
  contourLevels.forEach(L => {
    const attrs = { d: contourPath(S, X, Y, L), fill: 'none', stroke: '#141414', 'stroke-width': 2 };
    if (L < 0) attrs['stroke-dasharray'] = '2.4 1.2';
    const line = make('path', attrs, g);
    
    
  });

  // stippling
  let sd = '';
  const r = 1.7;
  const dot = (x, y) => { sd += 'M' + (x - r).toFixed(1) + ' ' + y.toFixed(1) + 'a' + r + ' ' + r + ' 0 1 0 ' + 2 * r + ' 0a' + r + ' ' + r + ' 0 1 0 ' + (-2 * r) + ' 0'; };
  cfg.stipple.forEach((intervals, c) => {
    const x = xOf(latitudes[c]);
    intervals.forEach(iv => {
      if (isPressure) {
        for (let k = iv[0]; k <= iv[1]; k++) dot(x, yOfP(Math.pow(10, k / 12)));
      } else {
        stippleHeights.forEach(h => { if (h <= iv[0] + .15 && h >= iv[1] - .15) dot(x, yOfH(h)); });
      }
    });
  });
  const dots = make('path', { d: sd, fill: '#111' }, g);
  
  

  // contour labels
  cfg.labels.forEach(l => {
    const t = make('text', { x: xOf(l[0]), y: yOf(l[1]) + 8, 'text-anchor': 'middle', 'font-size': 22, stroke: '#fff', 'stroke-width': 2.5, 'paint-order': 'stroke' }, g);
    
    
    t.textContent = l[2];
  });

  // frame
  const frame = make('rect', { x: cfg.left, y: cfg.top, width: cfg.right - cfg.left, height: cfg.bottom - cfg.top, fill: 'none', stroke: '#222', 'stroke-width': 2 }, g);
  
  

  // ticks + labels
  let td = '';
  const labelY = cfg.bottom + 27;
  latTicks.forEach((t, i) => {
    td += 'M' + xOf(t).toFixed(1) + ' ' + cfg.bottom + 'v7';
    const lx = isPressure ? xOf(t) + 4.5 : cfg.left + cfg.latLabelOffsets[i];
    const lab = make('text', { transform: 'translate(' + lx + ',' + labelY + ') scale(.84,1)', 'text-anchor': 'middle', 'font-size': 24 }, g);
    
    
    lab.textContent = (isPressure ? latLabelsFull : latLabelsShort)[i];
  });
  (isPressure ? pressureTicks : heightTicks).forEach((t, i) => {
    const y = yOf(t);
    td += 'M' + (cfg.left - 7) + ' ' + y.toFixed(1) + 'h7';
    const lab = make('text', { transform: 'translate(' + (cfg.left - 13.5) + ',' + (y + 8.5) + ') scale(.92,1)', 'text-anchor': 'end', 'font-size': 24 }, g);
    
    
    lab.textContent = isPressure ? pressureTickLabels[i] : String(t);
  });
  if (isPressure) {
    heightTicks.forEach(t => {
      if (t === 0) return;
      const y = yOfH(t);
      td += 'M' + cfg.right + ' ' + y.toFixed(1) + 'h6';
      const lab = make('text', { transform: 'translate(' + (cfg.right + 5) + ',' + (y + 8.5) + ') scale(.92,1)', 'font-size': 24 }, g);
      
      
      lab.textContent = String(t);
    });
  }
  const ticks = make('path', { d: td, fill: 'none', stroke: '#222', 'stroke-width': 2 }, g);
  
  

  // colorbar
  const cb = make('g', {}, g);
  
  
  const bl = cfg.barLeft, br = cfg.barRight, bt = cfg.barTop, bb = cfg.barTop + 16;
  const seg = (br - bl) / bandColors.length;
  const tipL = make('path', { d: 'M' + bl + ' ' + bt + 'L' + (bl - 30.6) + ' ' + (bt + 8) + 'L' + bl + ' ' + bb + 'Z', fill: belowColor, stroke: '#555', 'stroke-width': 1 }, cb);
  
  
  const tipR = make('path', { d: 'M' + br + ' ' + bt + 'L' + (br + 29) + ' ' + (bt + 8) + 'L' + br + ' ' + bb + 'Z', fill: aboveColor, stroke: '#555', 'stroke-width': 1 }, cb);
  
  
  bandColors.forEach((col, i) => {
    const seg1 = make('rect', { x: bl + i * seg, y: bt, width: seg, height: bb - bt, fill: col, stroke: '#333', 'stroke-width': 1.5 }, cb);
    
    
  });
  colorbarLabels.forEach((txt, i) => {
    const lab = make('text', { x: bl + i * seg, y: bb + 15, 'text-anchor': 'middle', 'font-size': 16 }, cb);
    
    
    lab.textContent = txt;
  });
}

const latOffsets = [98.7, 195, 287, 379.6, 476.4];
const row1 = { top: 47.7, bottom: 454, barTop: 490.7 };
const row2 = { top: 570.9, bottom: 977.3, barTop: 1013.5 };
const row3 = { top: 1094.3, bottom: 1500.6, barTop: 1537.5 };
const col1 = { left: 84.8, right: 663.4, barLeft: 47.3, barRight: 663.4 };
const col2 = { left: 762.3, right: 1340.9, barLeft: 724.8, barRight: 1340.9 };
const col3 = { left: 1439.2, right: 2020.9, barLeft: 1402.6, barRight: 2020.9 };

drawPanel(Object.assign({ id: 'a', pressure: true, values: trendSwoosh26, stipple: stippleSwoosh26, labels: labelsSwoosh26, missing: missingSwoosh26 }, row1, col1));
drawPanel(Object.assign({ id: 'b', pressure: true, values: trendSwoosh27, stipple: stippleSwoosh27, labels: labelsSwoosh27, missing: missingSwoosh27 }, row1, col2));
drawPanel(Object.assign({ id: 'c', values: trendVSLS, stipple: stippleVSLS, labels: labelsVSLS, latLabelOffsets: latOffsets }, row2, col1));
drawPanel(Object.assign({ id: 'd', values: trendVSLSSD5, stipple: stippleVSLSSD5, labels: labelsVSLSSD5, latLabelOffsets: latOffsets }, row2, col2));
drawPanel(Object.assign({ id: 'e', values: trendVSLSSDI, stipple: stippleVSLSSDI, labels: labelsVSLSSDI, latLabelOffsets: latOffsets }, row2, col3));
drawPanel(Object.assign({ id: 'f', values: trendBASE, stipple: stippleBASE, labels: labelsBASE, latLabelOffsets: latOffsets }, row3, col1));
drawPanel(Object.assign({ id: 'g', values: trendBASESD5, stipple: stippleBASESD5, labels: labelsBASESD5, latLabelOffsets: latOffsets }, row3, col2));
drawPanel(Object.assign({ id: 'h', values: trendBASESDI, stipple: stippleBASESDI, labels: labelsBASESDI, latLabelOffsets: latOffsets }, row3, col3));
</script>
</body>
</html>
